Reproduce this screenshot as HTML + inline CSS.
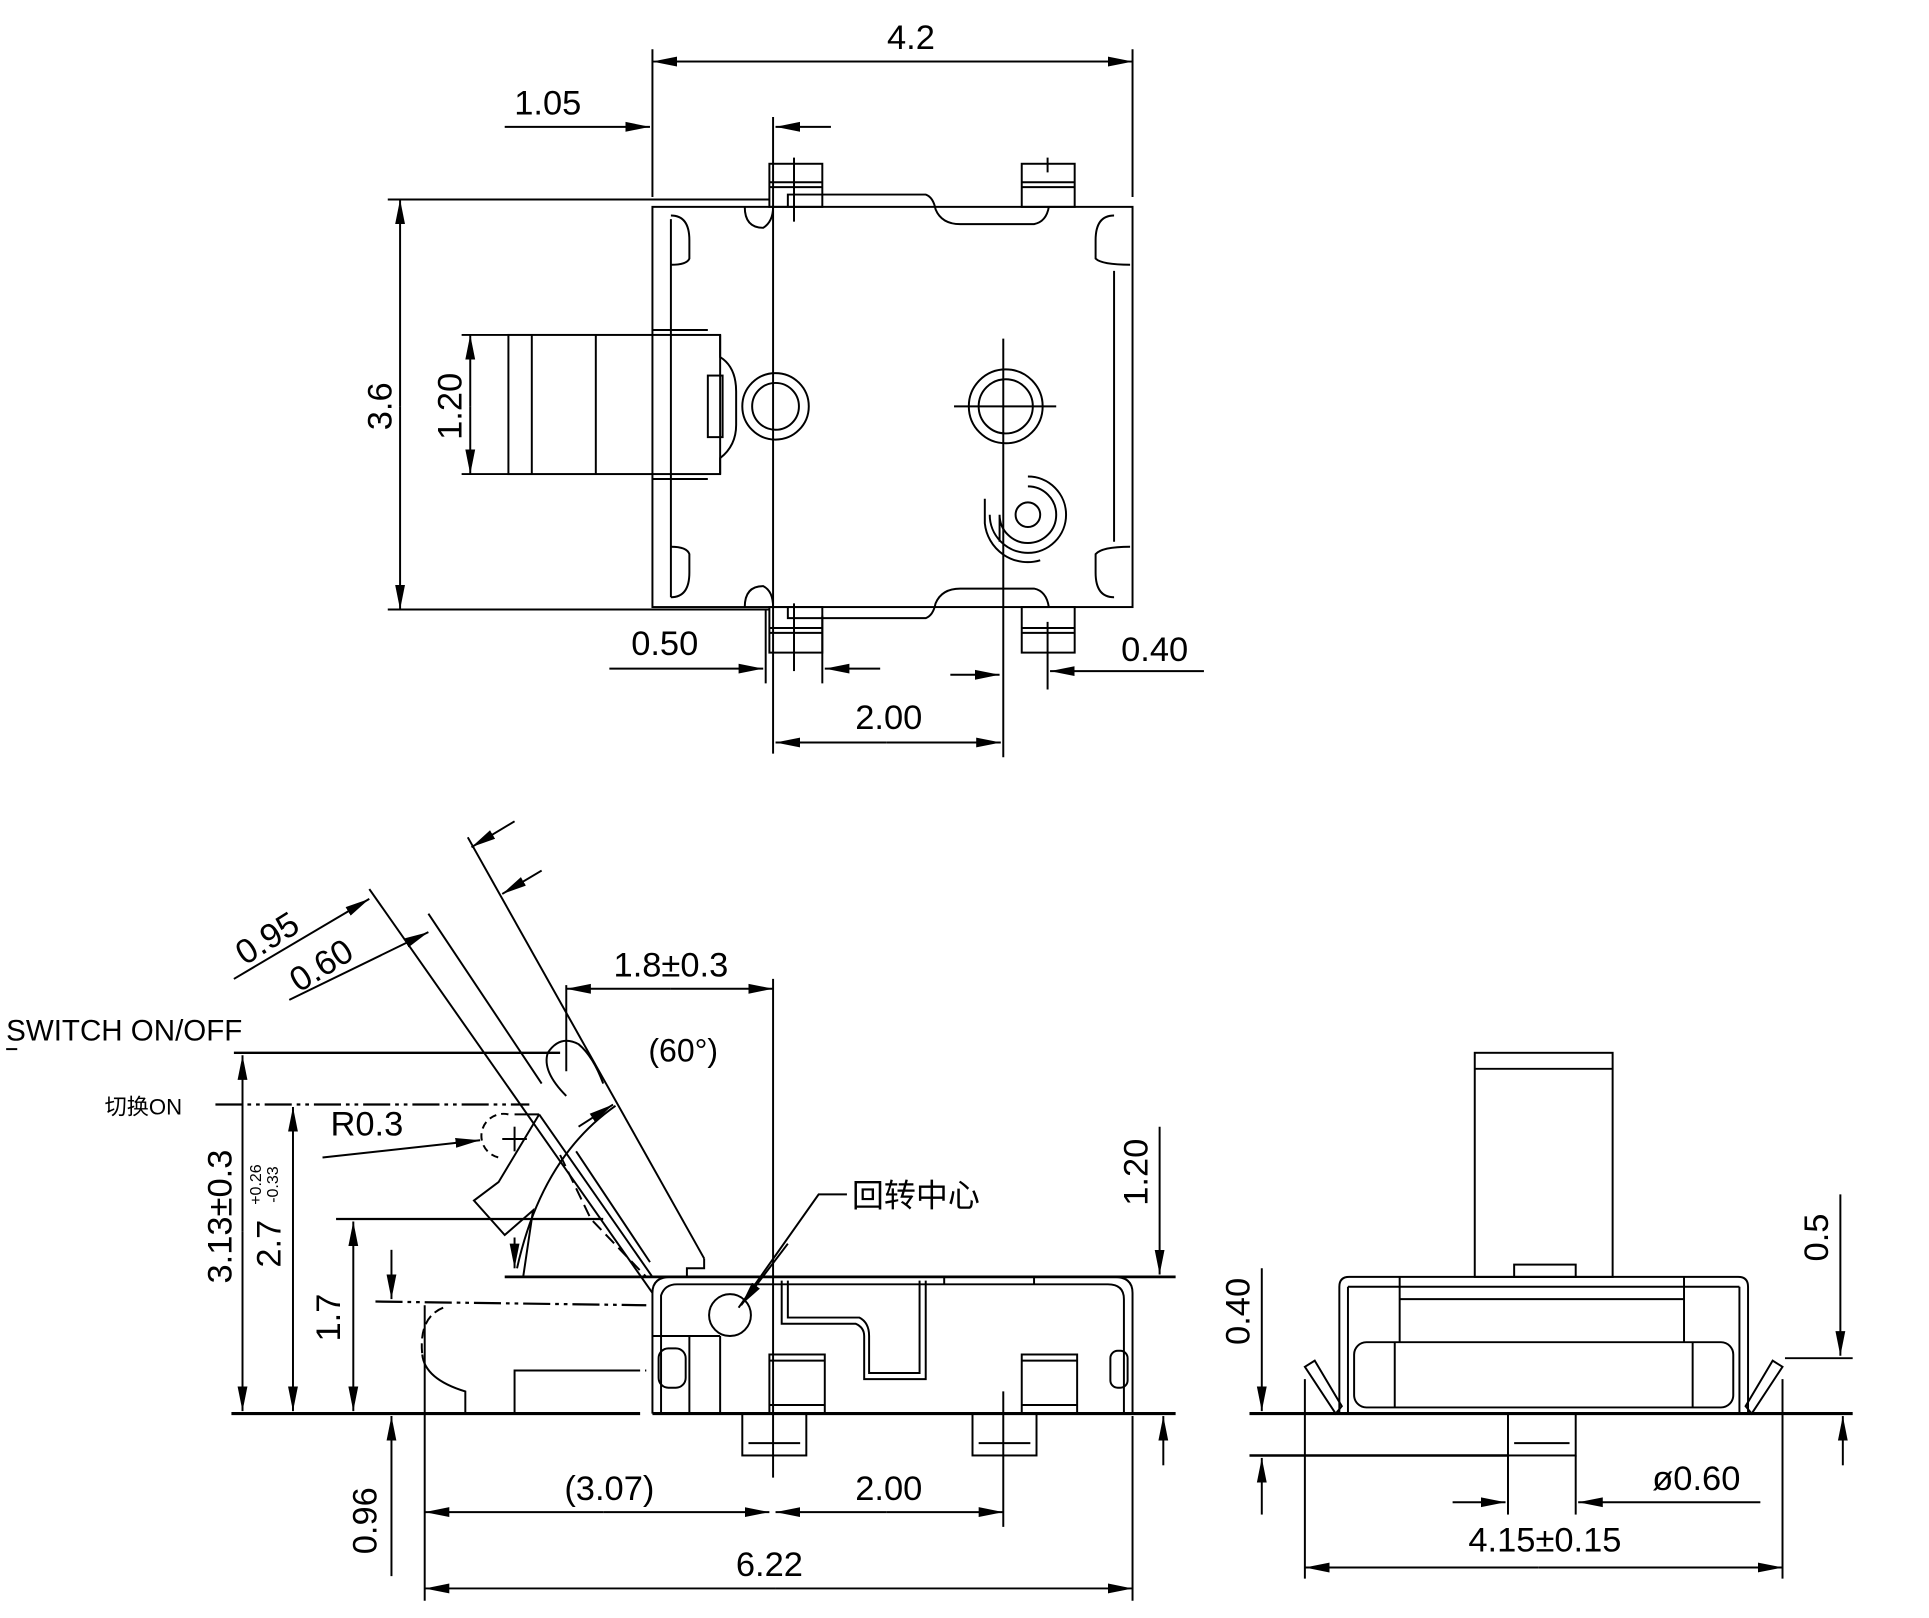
<!DOCTYPE html>
<html><head><meta charset="utf-8"><style>
html,body{margin:0;padding:0;background:#fff;}
svg{display:block;}
text{font-family:"Liberation Sans","Noto Sans CJK SC",sans-serif;fill:#000;}
</style></head><body>
<svg width="1929" height="1618" viewBox="0 0 1567 1314" preserveAspectRatio="none" xmlns="http://www.w3.org/2000/svg">
<defs>
<marker id="a" viewBox="0 0 20 10" refX="20" refY="5" markerWidth="20" markerHeight="10" markerUnits="userSpaceOnUse" orient="auto">
<path d="M0,1 L20,5 L0,9 z" fill="#000"/></marker>
</defs>
<g fill="none" stroke="#000" stroke-width="1.6">
<!-- TOP VIEW -->
<line x1="530" y1="40" x2="530" y2="160"/><line x1="920" y1="40" x2="920" y2="160"/>
<line x1="545" y1="50" x2="920" y2="50" marker-end="url(#a)"/><line x1="905" y1="50" x2="530" y2="50" marker-end="url(#a)"/>
<line x1="410" y1="103" x2="528" y2="103" marker-end="url(#a)"/>
<line x1="675" y1="103" x2="630" y2="103" marker-end="url(#a)"/>
<line x1="628" y1="95" x2="628" y2="612"/>
<line x1="315" y1="162" x2="625" y2="162"/><line x1="315" y1="495" x2="625" y2="495"/>
<line x1="325" y1="330" x2="325" y2="162" marker-end="url(#a)"/><line x1="325" y1="330" x2="325" y2="495" marker-end="url(#a)"/>
<rect x="530" y="168" width="390" height="325"/>
<line x1="545" y1="178" x2="545" y2="485"/><line x1="905" y1="220" x2="905" y2="440"/>
<path d="M545,175 Q560,175 560,195 L560,210 Q558,215 545,215"/>
<path d="M545,485 Q560,485 560,465 L560,450 Q558,444 545,444"/>
<path d="M905,175 Q890,175 890,195 L890,210 Q895,215 918,215"/>
<path d="M905,485 Q890,485 890,465 L890,450 Q895,444 918,444"/>
<path d="M640,168 L640,158 L752,158 Q758,160 760,170 Q765,182 780,182 L840,182 Q850,180 852,168"/>
<path d="M640,493 L640,502 L752,502 Q758,500 760,490 Q765,478 780,478 L840,478 Q850,480 852,493"/>
<path d="M605,168 Q605,185 620,185 Q628,180 628,168"/>
<path d="M605,493 Q605,476 620,476 Q628,480 628,493"/>
<rect x="625" y="133" width="43" height="35"/><line x1="625" y1="148" x2="668" y2="148"/><line x1="625" y1="152" x2="668" y2="152"/>
<rect x="830" y="133" width="43" height="35"/><line x1="830" y1="148" x2="873" y2="148"/><line x1="830" y1="152" x2="873" y2="152"/>
<rect x="625" y="493" width="43" height="37"/><line x1="625" y1="510" x2="668" y2="510"/><line x1="625" y1="514" x2="668" y2="514"/>
<rect x="830" y="493" width="43" height="37"/><line x1="830" y1="510" x2="873" y2="510"/><line x1="830" y1="514" x2="873" y2="514"/>
<line x1="645" y1="128" x2="645" y2="180"/><line x1="851" y1="128" x2="851" y2="140"/>
<line x1="645" y1="490" x2="645" y2="545"/><line x1="851" y1="505" x2="851" y2="560"/>
<line x1="668" y1="500" x2="668" y2="555"/><line x1="622" y1="495" x2="622" y2="555"/>
<rect x="413" y="272" width="172" height="113"/>
<line x1="432" y1="272" x2="432" y2="385"/><line x1="484" y1="272" x2="484" y2="385"/>
<path d="M585,272 L585,290 Q598,298 598,318 L598,345 Q598,362 585,372 L585,385"/>
<rect x="575" y="305" width="12" height="50"/>
<line x1="530" y1="268" x2="575" y2="268"/><line x1="530" y1="389" x2="575" y2="389"/>
<line x1="375" y1="272" x2="413" y2="272"/><line x1="375" y1="385" x2="413" y2="385"/>
<line x1="382" y1="330" x2="382" y2="272" marker-end="url(#a)"/><line x1="382" y1="330" x2="382" y2="385" marker-end="url(#a)"/>
<circle cx="630" cy="330" r="27"/><circle cx="630" cy="330" r="19"/>
<circle cx="817" cy="330" r="30"/><circle cx="817" cy="330" r="22"/>
<line x1="775" y1="330" x2="858" y2="330"/><line x1="815" y1="275" x2="815" y2="615"/>
<circle cx="835" cy="418" r="10"/>
<path d="M835,395 A23,23 0 1 1 812,418 L812,440"/>
<path d="M835,387 A31,31 0 1 1 804,418"/>
<path d="M800,405 L800,425 A35,35 0 0 0 845,455"/>
<line x1="495" y1="543" x2="620" y2="543" marker-end="url(#a)"/>
<line x1="715" y1="543" x2="670" y2="543" marker-end="url(#a)"/>
<line x1="978" y1="545" x2="853" y2="545" marker-end="url(#a)"/>
<line x1="772" y1="548" x2="812" y2="548" marker-end="url(#a)"/>
<line x1="720" y1="603" x2="630" y2="603" marker-end="url(#a)"/><line x1="720" y1="603" x2="813" y2="603" marker-end="url(#a)"/>

<!-- SIDE VIEW -->
<line x1="188" y1="1148" x2="520" y2="1148" stroke-width="2.5"/><line x1="530" y1="1148" x2="955" y2="1148" stroke-width="2.5"/>
<line x1="410" y1="1037" x2="955" y2="1037" stroke-width="2.2"/>
<path d="M530,1148 L530,1050 Q530,1037 545,1037 M920,1148 L920,1050 Q920,1037 905,1037"/>
<path d="M537,1148 L537,1052 Q540,1043 550,1043 L900,1043 Q913,1043 913,1055 L913,1148"/>
<rect x="603" y="1148" width="52" height="34"/><line x1="608" y1="1172" x2="650" y2="1172"/>
<rect x="790" y="1148" width="52" height="34"/><line x1="795" y1="1172" x2="837" y2="1172"/>
<rect x="625" y="1100" width="45" height="48"/><line x1="625" y1="1105" x2="670" y2="1105"/><line x1="625" y1="1141" x2="670" y2="1141"/>
<rect x="830" y="1100" width="45" height="48"/><line x1="830" y1="1105" x2="875" y2="1105"/><line x1="830" y1="1141" x2="875" y2="1141"/>
<path d="M635,1040 L635,1075 L695,1075 Q702,1078 702,1085 L702,1120 L752,1120 L752,1040"/>
<path d="M640,1040 L640,1070 L698,1070 Q706,1074 706,1085 L706,1115 L747,1115 L747,1040"/>
<line x1="767" y1="1043" x2="767" y2="1037"/><line x1="840" y1="1043" x2="840" y2="1037"/>
<circle cx="593" cy="1068" r="17"/>
<rect x="535" y="1095" width="22" height="32" rx="8"/><line x1="560" y1="1085" x2="560" y2="1148"/><line x1="530" y1="1085" x2="585" y2="1085"/><line x1="585" y1="1085" x2="585" y2="1148"/>
<rect x="902" y="1097" width="14" height="30" rx="6"/>
<!-- lever -->
<line x1="380" y1="680" x2="572" y2="1022"/>
<line x1="300" y1="722" x2="530" y2="1050"/>
<line x1="348" y1="742" x2="440" y2="880"/>
<path d="M572,1022 L572,1030 L558,1030 L558,1037"/>
<path d="M460,890 Q440,870 445,855 Q455,840 470,848 Q482,858 490,880"/>
<line x1="460" y1="800" x2="460" y2="870"/>
<path d="M438,905 L418,905 M438,905 L405,960 L385,975 L410,1003 L433,983 L425,1037"/>
<line x1="438" y1="905" x2="530" y2="1037"/>
<line x1="415" y1="1037" x2="530" y2="1037"/>
<path d="M455,938 L480,990 L525,1037" stroke-dasharray="10,5"/>
<line x1="468" y1="935" x2="528" y2="1025"/>
<path d="M413,905 A17,17 0 0 0 405,940" stroke-dasharray="6,4"/>
<line x1="408" y1="925" x2="428" y2="925"/><line x1="418" y1="915" x2="418" y2="935"/>
<path d="M500,898 Q440,940 420,1030" /><line x1="470" y1="915" x2="498" y2="897" marker-end="url(#a)"/><line x1="418" y1="1005" x2="418" y2="1030" marker-end="url(#a)"/>
<!-- dims side -->
<line x1="190" y1="795" x2="300" y2="730" marker-end="url(#a)"/>
<line x1="235" y1="812" x2="348" y2="757" marker-end="url(#a)"/>
<line x1="418" y1="667" x2="383" y2="688" marker-end="url(#a)"/>
<line x1="440" y1="707" x2="408" y2="726" marker-end="url(#a)"/>
<line x1="545" y1="803" x2="460" y2="803" marker-end="url(#a)"/><line x1="545" y1="803" x2="628" y2="803" marker-end="url(#a)"/>
<line x1="628" y1="795" x2="628" y2="1200"/>
<line x1="5" y1="852" x2="14" y2="852"/>
<line x1="190" y1="855" x2="455" y2="855" stroke-width="2"/>
<line x1="175" y1="897" x2="430" y2="897" stroke-dasharray="22,4,3,4,3,4" stroke-width="1.8"/>
<line x1="262" y1="940" x2="390" y2="926" marker-end="url(#a)"/>
<line x1="197" y1="1000" x2="197" y2="857" marker-end="url(#a)"/><line x1="197" y1="1000" x2="197" y2="1146" marker-end="url(#a)"/>
<line x1="238" y1="1020" x2="238" y2="899" marker-end="url(#a)"/><line x1="238" y1="1020" x2="238" y2="1146" marker-end="url(#a)"/>
<line x1="273" y1="990" x2="490" y2="990" stroke-width="1.8"/>
<line x1="287" y1="1070" x2="287" y2="992" marker-end="url(#a)"/><line x1="287" y1="1070" x2="287" y2="1146" marker-end="url(#a)"/>
<line x1="318" y1="1015" x2="318" y2="1055" marker-end="url(#a)"/>
<line x1="318" y1="1280" x2="318" y2="1150" marker-end="url(#a)"/>
<line x1="305" y1="1057" x2="525" y2="1060" stroke-dasharray="22,4,3,4,3,4" stroke-width="1.8"/>
<path d="M360,1062 Q340,1070 343,1100" stroke-dasharray="8,4"/>
<path d="M343,1100 Q345,1120 378,1130 L378,1148 M418,1148 L418,1113 L505,1113" />
<line x1="418" y1="1113" x2="525" y2="1113" stroke-dasharray="22,4,3,4,3,4"/>
<line x1="942" y1="915" x2="942" y2="1035" marker-end="url(#a)"/>
<line x1="945" y1="1190" x2="945" y2="1150" marker-end="url(#a)"/>
<polyline points="688,970 665,970 600,1062" /><line x1="640" y1="1010" x2="602" y2="1060" marker-end="url(#a)"/>
<line x1="345" y1="1060" x2="345" y2="1300"/><line x1="920" y1="1150" x2="920" y2="1300"/><line x1="815" y1="1130" x2="815" y2="1240"/>
<line x1="490" y1="1228" x2="345" y2="1228" marker-end="url(#a)"/><line x1="490" y1="1228" x2="625" y2="1228" marker-end="url(#a)"/>
<line x1="720" y1="1228" x2="630" y2="1228" marker-end="url(#a)"/><line x1="720" y1="1228" x2="815" y2="1228" marker-end="url(#a)"/>
<line x1="630" y1="1290" x2="345" y2="1290" marker-end="url(#a)"/><line x1="630" y1="1290" x2="920" y2="1290" marker-end="url(#a)"/>

<!-- FRONT VIEW -->
<rect x="1198" y="855" width="112" height="182"/><line x1="1198" y1="868" x2="1310" y2="868"/>
<rect x="1230" y="1027" width="50" height="10"/>
<path d="M1088,1148 L1088,1045 Q1088,1037 1096,1037 L1412,1037 Q1420,1037 1420,1045 L1420,1148"/>
<line x1="1095" y1="1045" x2="1413" y2="1045"/>
<line x1="1137" y1="1055" x2="1368" y2="1055"/>
<line x1="1137" y1="1037" x2="1137" y2="1090"/><line x1="1368" y1="1037" x2="1368" y2="1090"/>
<line x1="1095" y1="1045" x2="1095" y2="1148"/><line x1="1413" y1="1045" x2="1413" y2="1148"/>
<rect x="1100" y="1090" width="308" height="53" rx="10"/>
<line x1="1133" y1="1090" x2="1133" y2="1143"/><line x1="1375" y1="1090" x2="1375" y2="1143"/>
<path d="M1060,1110 L1068,1105 L1090,1142 L1085,1148 Z"/>
<path d="M1448,1110 L1440,1105 L1418,1142 L1423,1148 Z"/>
<line x1="1015" y1="1148" x2="1505" y2="1148" stroke-width="2.5"/>
<rect x="1225" y="1148" width="55" height="34"/><line x1="1230" y1="1172" x2="1275" y2="1172"/>
<line x1="1015" y1="1182" x2="1225" y2="1182" stroke-width="2"/>
<line x1="1025" y1="1030" x2="1025" y2="1146" marker-end="url(#a)"/>
<line x1="1025" y1="1230" x2="1025" y2="1184" marker-end="url(#a)"/>
<line x1="1495" y1="970" x2="1495" y2="1101" marker-end="url(#a)"/>
<line x1="1450" y1="1103" x2="1505" y2="1103"/>
<line x1="1497" y1="1190" x2="1497" y2="1150" marker-end="url(#a)"/>
<line x1="1225" y1="1182" x2="1225" y2="1230"/><line x1="1280" y1="1182" x2="1280" y2="1230"/>
<line x1="1180" y1="1220" x2="1223" y2="1220" marker-end="url(#a)"/>
<line x1="1430" y1="1220" x2="1282" y2="1220" marker-end="url(#a)"/>
<line x1="1060" y1="1120" x2="1060" y2="1282"/><line x1="1448" y1="1120" x2="1448" y2="1282"/>
<line x1="1250" y1="1273" x2="1060" y2="1273" marker-end="url(#a)"/><line x1="1250" y1="1273" x2="1448" y2="1273" marker-end="url(#a)"/>
</g>
<g font-size="28">
<text x="740" y="40" text-anchor="middle">4.2</text>
<text x="445" y="93" text-anchor="middle">1.05</text>
<text transform="translate(318,330) rotate(-90)" text-anchor="middle">3.6</text>
<text transform="translate(375,330) rotate(-90)" text-anchor="middle">1.20</text>
<text x="540" y="532" text-anchor="middle">0.50</text>
<text x="938" y="537" text-anchor="middle">0.40</text>
<text x="722" y="592" text-anchor="middle">2.00</text>
<text transform="translate(222,770) rotate(-32)" text-anchor="middle">0.95</text>
<text transform="translate(266,792) rotate(-32)" text-anchor="middle">0.60</text>
<text x="545" y="793" text-anchor="middle">1.8±0.3</text>
<text x="555" y="862" text-anchor="middle" font-size="26">(60°)</text>
<text x="5" y="845" font-size="24">SWITCH ON/OFF</text>
<text x="85" y="905" font-size="18">切换ON</text>
<text x="298" y="922" text-anchor="middle">R0.3</text>
<text transform="translate(188,988) rotate(-90)" text-anchor="middle">3.13±0.3</text>
<text transform="translate(228,1010) rotate(-90)" text-anchor="middle">2.7</text>
<text transform="translate(212,962) rotate(-90)" text-anchor="middle" font-size="13">+0.26</text>
<text transform="translate(226,962) rotate(-90)" text-anchor="middle" font-size="13">-0.33</text>
<text transform="translate(276,1070) rotate(-90)" text-anchor="middle">1.7</text>
<text transform="translate(932,952) rotate(-90)" text-anchor="middle">1.20</text>
<text x="692" y="980" font-size="26">回转中心</text>
<text transform="translate(306,1235) rotate(-90)" text-anchor="middle">0.96</text>
<text x="495" y="1218" text-anchor="middle">(3.07)</text>
<text x="722" y="1218" text-anchor="middle">2.00</text>
<text x="625" y="1280" text-anchor="middle">6.22</text>
<text transform="translate(1015,1065) rotate(-90)" text-anchor="middle">0.40</text>
<text transform="translate(1485,1005) rotate(-90)" text-anchor="middle">0.5</text>
<text x="1378" y="1210" text-anchor="middle">ø0.60</text>
<text x="1255" y="1260" text-anchor="middle">4.15±0.15</text>
</g>
</svg>
</body></html>
